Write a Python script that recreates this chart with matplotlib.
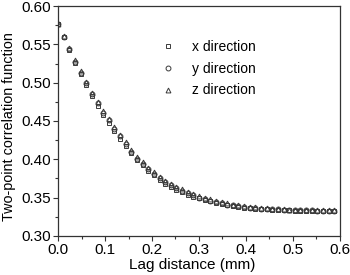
import matplotlib
matplotlib.use("Agg")
import matplotlib.pyplot as plt
from matplotlib.ticker import MultipleLocator

plt.rcParams['font.family'] = ['Liberation Sans', 'DejaVu Sans']

lag = [0.000, 0.012, 0.024, 0.036, 0.048, 0.060, 0.072, 0.084, 0.096, 0.108,
       0.120, 0.132, 0.144, 0.156, 0.168, 0.180, 0.192, 0.204, 0.216, 0.228,
       0.240, 0.252, 0.264, 0.276, 0.288, 0.300, 0.312, 0.324, 0.336, 0.348,
       0.360, 0.372, 0.384, 0.396, 0.408, 0.420, 0.432, 0.444, 0.456, 0.468,
       0.480, 0.492, 0.504, 0.516, 0.528, 0.540, 0.552, 0.564, 0.576, 0.588]

x_dir = [0.576, 0.559, 0.542, 0.526, 0.511, 0.497, 0.483, 0.470, 0.458, 0.448,
         0.437, 0.427, 0.417, 0.408, 0.399, 0.392, 0.385, 0.379, 0.373, 0.368,
         0.364, 0.360, 0.357, 0.354, 0.351, 0.349, 0.347, 0.345, 0.343, 0.3415,
         0.340, 0.339, 0.338, 0.337, 0.3362, 0.3356, 0.3350, 0.3346, 0.3342, 0.3339,
         0.3336, 0.3334, 0.3332, 0.3331, 0.3330, 0.3329, 0.3328, 0.3328, 0.3327, 0.3327]

y_dir = [0.576, 0.560, 0.5435, 0.527, 0.513, 0.499, 0.485, 0.473, 0.461, 0.451,
         0.440, 0.430, 0.420, 0.410, 0.401, 0.394, 0.387, 0.381, 0.375, 0.370,
         0.366, 0.362, 0.359, 0.356, 0.353, 0.350, 0.348, 0.346, 0.344, 0.3425,
         0.341, 0.340, 0.339, 0.338, 0.337, 0.3364, 0.3358, 0.3353, 0.3349, 0.3346,
         0.3343, 0.3340, 0.3338, 0.3336, 0.3334, 0.3333, 0.3332, 0.3331, 0.3330, 0.3330]

z_dir = [0.577, 0.561, 0.545, 0.529, 0.515, 0.501, 0.487, 0.475, 0.463, 0.453,
         0.442, 0.432, 0.422, 0.412, 0.403, 0.396, 0.389, 0.383, 0.377, 0.372,
         0.368, 0.364, 0.361, 0.358, 0.355, 0.352, 0.350, 0.348, 0.346, 0.344,
         0.3425, 0.341, 0.340, 0.339, 0.338, 0.3372, 0.3366, 0.3360, 0.3355, 0.3351,
         0.3348, 0.3345, 0.3342, 0.3340, 0.3338, 0.3336, 0.3335, 0.3334, 0.3333, 0.3333]

labels = ["x direction", "y direction", "z direction"]
markers = ["s", "o", "^"]

fig = plt.figure(figsize=(3.5, 2.75), dpi=100)
ax = fig.add_axes([0.166, 0.142, 0.805, 0.836])

ec = "#3a3a3a"
for series, m, lab in zip([x_dir, y_dir, z_dir], markers, labels):
    ax.plot(lag, series, linestyle="none", marker=m, markersize=3.5,
            markerfacecolor="none", markeredgecolor=ec, markeredgewidth=0.7,
            label=lab, clip_on=True)

ax.set_xlim(0.0, 0.6)
ax.set_ylim(0.30, 0.60)
ax.xaxis.set_major_locator(MultipleLocator(0.1))
ax.xaxis.set_minor_locator(MultipleLocator(0.05))
ax.yaxis.set_major_locator(MultipleLocator(0.05))
ax.yaxis.set_minor_locator(MultipleLocator(0.025))
ax.tick_params(which="both", direction="out", top=False, right=False,
               labelsize=11, color="#333333", width=0.8)
ax.tick_params(which="major", length=3.5, pad=1.5)
ax.tick_params(which="minor", length=2)
ax.xaxis.set_major_formatter(matplotlib.ticker.FormatStrFormatter("%.1f"))
ax.yaxis.set_major_formatter(matplotlib.ticker.FormatStrFormatter("%.2f"))

for s in ax.spines.values():
    s.set_color("#333333")
    s.set_linewidth(0.9)

ax.set_xlabel("Lag distance (mm)", fontsize=11)
ax.set_ylabel("Two-point correlation function", fontsize=10.4)
ax.xaxis.set_label_coords(0.475, -0.095)
ax.yaxis.set_label_coords(-0.148, 0.476)

ax.legend(loc="upper left", bbox_to_anchor=(0.345, 0.877), frameon=False,
          fontsize=10, handletextpad=1.25, labelspacing=0.56, handlelength=1.0,
          borderaxespad=0)

fig.savefig("out.png", dpi=100)
